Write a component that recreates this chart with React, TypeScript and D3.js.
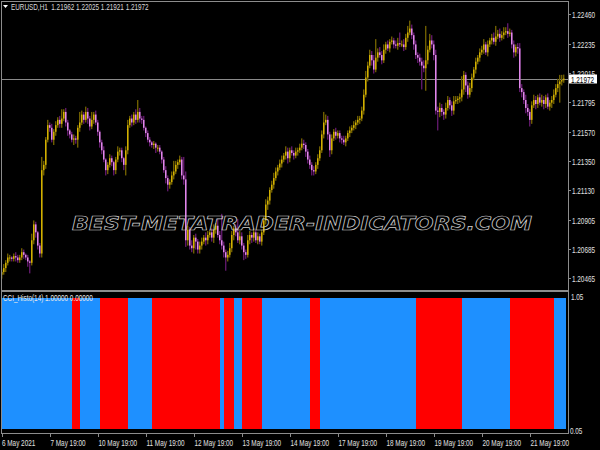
import React, { useEffect, useRef } from 'react';
import * as d3 from 'd3';

// EURUSD H1 closes, one per bar
const closes = [
  1.2051, 1.2054, 1.2058, 1.2062, 1.2062, 1.2061, 1.2063, 1.2062, 1.2060, 1.2062,
  1.2066, 1.2064, 1.2062, 1.2059, 1.2058, 1.2075, 1.2087, 1.2081, 1.2071, 1.2065,
  1.2128, 1.2132, 1.2151, 1.2162, 1.2160, 1.2151, 1.2157, 1.2162, 1.2166, 1.2163,
  1.2167, 1.2172, 1.2164, 1.2158, 1.2155, 1.2151, 1.2152, 1.2151, 1.2160, 1.2164,
  1.2170, 1.2166, 1.2172, 1.2167, 1.2161, 1.2166, 1.2170, 1.2164, 1.2157, 1.2149,
  1.2143, 1.2136, 1.2128, 1.2132, 1.2137, 1.2134, 1.2128, 1.2136, 1.2142, 1.2143,
  1.2137, 1.2132, 1.2143, 1.2162, 1.2167, 1.2164, 1.2170, 1.2166, 1.2172, 1.2167,
  1.2166, 1.2160, 1.2156, 1.2151, 1.2149, 1.2147, 1.2148, 1.2145, 1.2145, 1.2142,
  1.2136, 1.2128, 1.2122, 1.2117, 1.2119, 1.2124, 1.2127, 1.2132, 1.2134, 1.2136,
  1.2124, 1.2121, 1.2075, 1.2083, 1.2071, 1.2069, 1.2077, 1.2074, 1.2068, 1.2071,
  1.2074, 1.2077, 1.2075, 1.2079, 1.2081, 1.2077, 1.2083, 1.2086, 1.2079, 1.2075,
  1.2071, 1.2066, 1.2062, 1.2064, 1.2069, 1.2079, 1.2084, 1.2081, 1.2075, 1.2078,
  1.2071, 1.2066, 1.2064, 1.2075, 1.2079, 1.2077, 1.2081, 1.2075, 1.2078, 1.2074,
  1.2081, 1.2090, 1.2102, 1.2105, 1.2113, 1.2117, 1.2122, 1.2127, 1.2130, 1.2133,
  1.2136, 1.2139, 1.2142, 1.2137, 1.2143, 1.2141, 1.2139, 1.2142, 1.2143, 1.2145,
  1.2148, 1.2147, 1.2142, 1.2136, 1.2132, 1.2128, 1.2127, 1.2132, 1.2137, 1.2143,
  1.2155, 1.2164, 1.2166, 1.2155, 1.2143, 1.2152, 1.2157, 1.2154, 1.2156, 1.2152,
  1.2151, 1.2149, 1.2152, 1.2156, 1.2158, 1.2160, 1.2162, 1.2164, 1.2166, 1.2167,
  1.2173, 1.2185, 1.2198, 1.2207, 1.2215, 1.2211, 1.2204, 1.2213, 1.2217, 1.2215,
  1.2211, 1.2219, 1.2223, 1.2220, 1.2225, 1.2226, 1.2223, 1.2222, 1.2224, 1.2223,
  1.2223, 1.2221, 1.2228, 1.2232, 1.2235, 1.2230, 1.2223, 1.2215, 1.2213, 1.2210,
  1.2207, 1.2205, 1.2211, 1.2219, 1.2226, 1.2223, 1.2215, 1.2173, 1.2172, 1.2175,
  1.2172, 1.2170, 1.2175, 1.2181, 1.2177, 1.2173, 1.2180, 1.2181, 1.2182, 1.2183,
  1.2189, 1.2200, 1.2192, 1.2185, 1.2190, 1.2198, 1.2204, 1.2210, 1.2213, 1.2217,
  1.2219, 1.2223, 1.2217, 1.2223, 1.2226, 1.2228, 1.2225, 1.2229, 1.2231, 1.2228,
  1.2230, 1.2232, 1.2233, 1.2231, 1.2232, 1.2223, 1.2217, 1.2221, 1.2220, 1.2190,
  1.2187, 1.2181, 1.2175, 1.2172, 1.2166, 1.2177, 1.2181, 1.2178, 1.2183, 1.2179,
  1.2181, 1.2178, 1.2183, 1.2176, 1.2179, 1.2181, 1.2185, 1.2190, 1.2193, 1.2195, 1.2196, 1.21972
];

// wick lengths above / below the body, in pips
const wickUp = [
  2, 3, 2, 3, 2, 1, 2, 3, 2, 2,
  3, 2, 1, 2, 1, 5, 3, 2, 1, 2,
  10, 3, 2, 4, 2, 3, 2, 3, 2, 3,
  7, 2, 3, 2, 1, 2, 3, 2, 2, 8,
  3, 2, 4, 3, 2, 6, 2, 3, 2, 1,
  2, 3, 1, 2, 3, 2, 1, 2, 4, 2,
  2, 1, 3, 4, 2, 3, 2, 4, 9, 3,
  2, 3, 1, 2, 2, 1, 2, 1, 2, 2,
  1, 2, 3, 2, 2, 3, 8, 3, 2, 3,
  2, 14, 6, 3, 2, 4, 2, 3, 2, 3,
  3, 2, 4, 3, 2, 3, 4, 2, 5, 3,
  20, 3, 2, 3, 4, 3, 2, 3, 10, 4,
  3, 2, 2, 4, 3, 2, 3, 2, 3, 2,
  2, 3, 4, 3, 2, 3, 4, 3, 2, 3,
  3, 2, 4, 3, 2, 3, 2, 3, 2, 3,
  4, 3, 2, 2, 3, 2, 3, 2, 3, 3,
  3, 8, 4, 3, 2, 3, 2, 3, 2, 2,
  2, 3, 2, 2, 3, 2, 3, 2, 3, 2,
  3, 4, 5, 3, 4, 3, 4, 14, 3, 4,
  3, 4, 2, 3, 2, 3, 2, 3, 4, 8,
  3, 4, 3, 5, 6, 3, 2, 3, 2, 3,
  3, 4, 26, 3, 5, 4, 3, 4, 3, 4,
  3, 2, 4, 3, 2, 3, 4, 3, 2, 3,
  10, 3, 2, 3, 4, 3, 2, 3, 2, 3,
  3, 4, 2, 3, 2, 3, 4, 8, 3, 4,
  3, 4, 3, 6, 3, 2, 3, 2, 3, 4,
  3, 2, 4, 3, 2, 3, 4, 3, 2, 3,
  4, 3, 2, 3, 2, 3, 4, 3, 4, 5, 4, 3
];
const wickDn = [
  3, 2, 3, 2, 3, 2, 2, 3, 2, 2,
  2, 3, 2, 4, 8, 2, 3, 4, 3, 3,
  3, 4, 3, 2, 3, 2, 4, 3, 2, 3,
  3, 2, 3, 4, 3, 2, 4, 3, 6, 3,
  2, 3, 2, 4, 3, 2, 3, 2, 3, 4,
  3, 2, 4, 3, 2, 3, 4, 3, 2, 3,
  3, 4, 8, 3, 2, 3, 2, 3, 2, 3,
  3, 2, 3, 2, 3, 2, 3, 4, 3, 2,
  3, 2, 4, 5, 3, 2, 3, 2, 3, 2,
  3, 4, 5, 4, 3, 3, 4, 6, 3, 3,
  3, 2, 4, 3, 2, 3, 4, 3, 2, 3,
  3, 4, 10, 3, 2, 3, 4, 3, 2, 3,
  3, 6, 3, 2, 3, 4, 3, 2, 3, 2,
  3, 2, 3, 4, 3, 2, 3, 2, 3, 2,
  3, 2, 3, 4, 3, 2, 3, 2, 3, 2,
  2, 3, 4, 3, 3, 4, 3, 2, 3, 2,
  2, 3, 2, 4, 5, 3, 2, 3, 2, 3,
  3, 2, 3, 2, 3, 2, 2, 3, 2, 3,
  2, 3, 2, 3, 2, 4, 3, 2, 3, 2,
  3, 2, 3, 2, 3, 2, 3, 2, 3, 2,
  2, 3, 2, 3, 2, 3, 4, 3, 4, 3,
  18, 3, 17, 3, 2, 3, 4, 3, 14, 4,
  3, 4, 3, 2, 3, 4, 3, 2, 3, 3,
  3, 4, 5, 3, 2, 3, 2, 3, 2, 3,
  2, 3, 2, 3, 2, 3, 2, 3, 2, 3,
  2, 3, 2, 3, 2, 3, 4, 3, 4, 3,
  4, 3, 4, 3, 5, 3, 2, 4, 3, 2,
  3, 4, 3, 2, 3, 4, 3, 2, 3, 14, 3, 2
];
const firstOpen = 1.2049;

const priceTicks = [1.22460, 1.22235, 1.22015, 1.21795, 1.21570, 1.21350, 1.21130, 1.20905, 1.20685, 1.20465];
const lastPrice = 1.21972;
const titleText = 'EURUSD,H1  1.21962 1.22025 1.21921 1.21972';

const timeTickBars = [0, 24, 48, 72, 96, 120, 144, 168, 192, 216, 240, 264];
const timeTickLabels = [
  '6 May 2021', '7 May 19:00', '10 May 19:00', '11 May 19:00', '12 May 19:00', '13 May 19:00',
  '14 May 19:00', '17 May 19:00', '18 May 19:00', '19 May 19:00', '20 May 19:00', '21 May 19:00'
];

// CCI histo: runs of bars, 1 = above zero (blue), 0 = below (red)
const cciRunLengths = [35, 4, 10, 14, 12, 34, 2, 5, 4, 10, 24, 5, 48, 23, 24, 22, 6];
const cciRunStates = [1, 0, 1, 0, 1, 0, 1, 0, 1, 0, 1, 0, 1, 0, 1, 0, 1];
const cciLabel = 'CCI_Histo(14) 1.00000 0.00000';
const cciScaleLabels = ['1.05', '0.05'];

const FONT = '"Liberation Sans", Arial, sans-serif';

export default function App() {
  const ref = useRef<SVGSVGElement>(null);

  useEffect(() => {
    const svg = d3.select(ref.current);
    svg.selectAll('*').remove();

    const W = 600, H = 450;
    const axisX = 568;
    const pip = 0.0001;

    const x = d3.scaleLinear().domain([0, 1]).range([1.5, 3.5]);
    const y = d3.scaleLinear().domain([1.20465, 1.22460]).range([278, 14]);
    const yc = d3.scaleLinear().domain([0, 1]).range([429, 298]);

    // MT4 small font is narrow: squeeze Liberation Sans horizontally
    const label = (g: any, tx: number, ty: number, txt: string, fill: string) =>
      g.append('text')
        .attr('transform', `translate(${tx},${ty}) scale(0.75,1)`)
        .attr('xml:space', 'preserve')
        .style('white-space', 'pre')
        .style('font-family', FONT).style('font-size', '8.5px')
        .attr('fill', fill).text(txt);

    const bars = closes.map((c, i) => {
      const o = i === 0 ? firstOpen : closes[i - 1];
      return {
        i, o, c,
        h: Math.max(o, c) + wickUp[i] * pip,
        l: Math.min(o, c) - wickDn[i] * pip
      };
    });

    svg.append('rect').attr('width', W).attr('height', H).attr('fill', '#000');

    // current price line
    const ly = Math.round(y(lastPrice)) + 0.5;
    svg.append('line')
      .attr('x1', 1).attr('x2', axisX).attr('y1', ly).attr('y2', ly)
      .attr('stroke', '#8a8a8a').attr('stroke-width', 1);

    const cg = svg.append('g');
    cg.selectAll('.wick').data(bars).enter().append('rect')
      .attr('x', d => x(d.i) - 0.5).attr('width', 1.4)
      .attr('y', d => y(d.h)).attr('height', d => y(d.l) - y(d.h))
      .attr('fill', d => d.c >= d.o ? '#6e5e00' : '#5e1868');
    cg.selectAll('.body').data(bars).enter().append('rect')
      .attr('x', d => x(d.i) - 0.5).attr('width', 1.5)
      .attr('y', d => y(Math.max(d.o, d.c)))
      .attr('height', d => Math.max(1, Math.abs(y(d.o) - y(d.c))))
      .attr('fill', d => d.c >= d.o ? '#d2b000' : '#e088ea');

    // watermark
    svg.append('text')
      .attr('x', 72).attr('y', 230)
      .attr('textLength', 460).attr('lengthAdjust', 'spacingAndGlyphs')
      .style('font-family', '"DejaVu Sans", sans-serif')
      .style('font-size', '19px').style('font-weight', 'bold').style('font-style', 'italic')
      .attr('fill', 'none').attr('stroke', '#d0d0d0').attr('stroke-width', 0.7)
      .text('BEST-METATRADER-INDICATORS.COM');

    // frame
    const frame = '#8c8c8c';
    svg.append('line').attr('x1', 1).attr('x2', axisX).attr('y1', 1.5).attr('y2', 1.5).attr('stroke', frame);
    svg.append('line').attr('x1', 1.5).attr('x2', 1.5).attr('y1', 1).attr('y2', 433).attr('stroke', frame);
    svg.append('line').attr('x1', axisX + 0.5).attr('x2', axisX + 0.5).attr('y1', 1).attr('y2', 434).attr('stroke', frame);
    svg.append('rect').attr('x', 1).attr('y', 290).attr('width', axisX).attr('height', 2).attr('fill', frame);

    // price axis
    const pa = svg.append('g');
    priceTicks.forEach(p => {
      const yy = Math.round(y(p)) + 0.5;
      pa.append('line').attr('x1', axisX).attr('x2', axisX + 3).attr('y1', yy).attr('y2', yy).attr('stroke', frame);
      label(pa, axisX + 4, yy + 3, p.toFixed(5), '#e0e0e0');
    });
    pa.append('rect').attr('x', axisX + 1).attr('y', ly - 5).attr('width', 28).attr('height', 9).attr('fill', '#fff');
    label(pa, axisX + 3, ly + 3, lastPrice.toFixed(5), '#000');

    // title
    svg.append('path').attr('d', 'M3,5 L8,5 L5.5,8 Z').attr('fill', '#fff');
    label(svg, 11, 10, titleText, '#d8d8d8');

    // CCI histogram
    const cci: number[] = [];
    cciRunLengths.forEach((n, k) => { for (let j = 0; j < n; j++) cci.push(cciRunStates[k]); });
    svg.append('g').attr('shape-rendering', 'crispEdges')
      .selectAll('rect').data(cci).enter().append('rect')
      .attr('x', (d, i) => x(i) + 0.5).attr('width', 2)
      .attr('y', yc(1)).attr('height', yc(0) - yc(1))
      .attr('fill', d => d ? '#1e90ff' : '#ff0000');
    label(svg, 3, 301, cciLabel, '#e8e8e8');
    label(svg, axisX + 3, 300, cciScaleLabels[0], '#e0e0e0');
    label(svg, axisX + 2, 434, cciScaleLabels[1], '#e0e0e0');

    // time axis
    svg.append('line').attr('x1', 1).attr('x2', axisX + 1).attr('y1', 433.5).attr('y2', 433.5).attr('stroke', frame);
    const ta = svg.append('g');
    timeTickBars.forEach((b, k) => {
      const xx = Math.round(x(b)) + 0.5;
      ta.append('line').attr('x1', xx).attr('x2', xx).attr('y1', 433).attr('y2', 437).attr('stroke', frame);
      label(ta, k === 0 ? 2 : xx, 446, timeTickLabels[k], '#e0e0e0');
    });
  }, []);

  return (
    <svg ref={ref} width={600} height={450}
      style={{ position: 'fixed', left: 0, top: 0, background: '#000', display: 'block' }} />
  );
}
